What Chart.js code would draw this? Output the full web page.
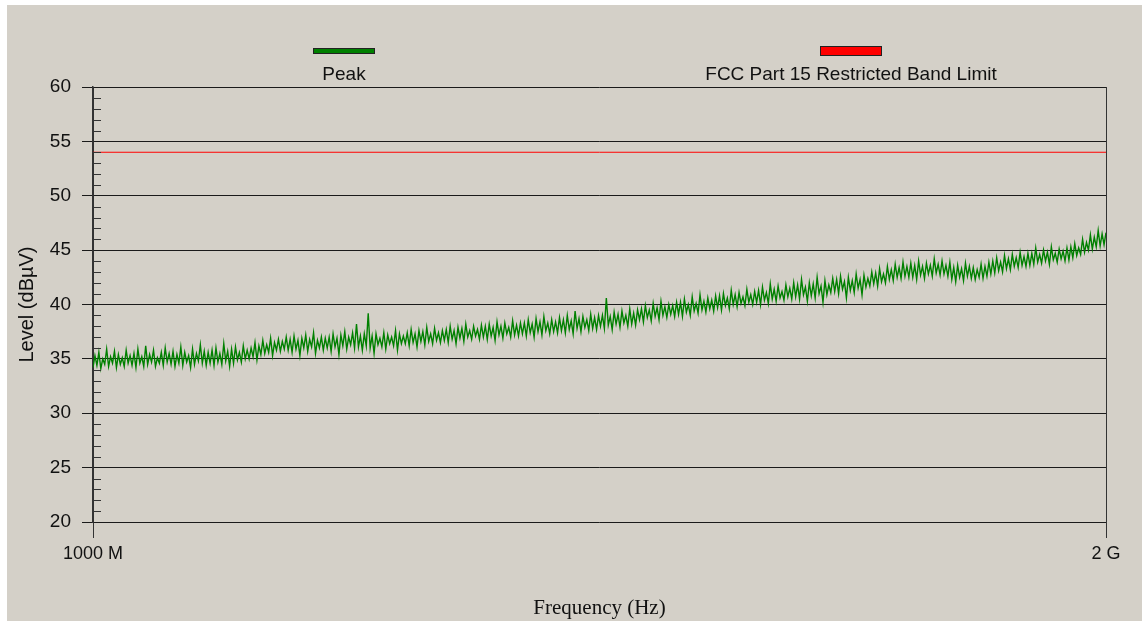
<!DOCTYPE html>
<html>
<head>
<meta charset="utf-8">
<title>Peak scan 1-2 GHz</title>
<script src="https://cdn.jsdelivr.net/npm/chart.js@4.4.1/dist/chart.umd.min.js"></script>
<style>
  html, body { margin: 0; padding: 0; background: #ffffff; }
  #wrap { width: 1142px; height: 621px; }
</style>
</head>
<body>
<div id="wrap"><canvas id="scan" width="1142" height="621"></canvas></div>
<script>
// frequency span in MHz
const freqStart = 1000;
const freqStop = 2000;
const xTickValues = [1000, 2000];
const xTickLabels = ["1000 M", "2 G"];

const limitLevel = 54; // dBuV

// peak trace left to right (dBuV)
const peakLevels = [
  34.2, 35.3, 34.4, 35.6, 34.1, 35.0, 34.5, 35.9, 34.3, 35.2, 34.6, 35.7, 34.2, 35.4, 34.5, 35.1, 34.3, 35.8, 34.6, 35.3,
  34.4, 35.5, 34.2, 35.9, 34.6, 35.2, 34.3, 36.2, 34.5, 35.4, 34.7, 35.8, 34.3, 35.1, 34.6, 35.6, 34.4, 36.0, 34.7, 35.5,
  34.5, 35.7, 34.3, 35.4, 34.6, 36.1, 34.4, 35.6, 34.7, 35.3, 34.2, 35.9, 34.5, 35.5, 34.8, 36.3, 34.6, 35.7, 34.4, 35.6,
  34.6, 35.8, 34.4, 36.0, 34.7, 35.5, 34.5, 36.4, 34.8, 35.7, 34.3, 35.9, 34.6, 36.1, 34.9, 35.6, 34.7, 36.2, 35.0, 35.8,
  35.0, 36.0, 35.2, 36.5, 34.9, 36.2, 35.4, 36.7, 35.5, 36.3, 35.6, 36.9, 35.3, 36.5, 35.8, 36.8, 35.7, 36.6, 35.9, 37.0,
  35.8, 36.8, 35.6, 37.1, 35.9, 36.7, 35.3, 36.9, 36.0, 37.2, 35.7, 36.8, 36.1, 37.4, 35.5, 36.7, 36.0, 37.0, 35.8, 36.9,
  36.0, 37.0, 35.7, 37.3, 36.1, 36.9, 35.4, 37.2, 36.2, 37.5, 35.9, 37.0, 36.3, 37.4, 36.0, 38.2, 36.1, 37.1, 35.8, 37.3,
  36.2, 39.2, 36.0, 37.1, 35.5, 37.3, 36.3, 36.9, 36.1, 37.4, 35.9, 37.2, 36.4, 37.0, 36.2, 37.6, 35.8, 37.3, 36.4, 37.1,
  36.4, 37.4, 36.2, 37.7, 36.5, 37.3, 36.1, 37.6, 36.6, 37.5, 36.3, 37.9, 36.6, 37.3, 36.4, 37.8, 36.7, 37.4, 36.5, 37.6,
  36.7, 37.7, 36.5, 38.0, 36.8, 37.6, 36.4, 37.9, 36.9, 37.8, 36.6, 38.2, 37.0, 37.6, 36.8, 38.0, 37.1, 37.7, 36.8, 38.1,
  37.0, 38.0, 36.8, 38.2, 37.1, 37.9, 36.7, 38.4, 37.2, 38.0, 36.9, 38.3, 37.3, 37.9, 37.0, 38.5, 37.2, 38.1, 37.1, 38.3,
  37.3, 38.3, 37.1, 38.6, 37.4, 38.2, 37.0, 38.7, 37.5, 38.4, 37.2, 38.9, 37.6, 38.3, 37.3, 38.6, 37.5, 38.4, 37.4, 38.8,
  37.6, 38.6, 37.4, 39.0, 37.7, 38.5, 37.3, 39.4, 37.8, 38.7, 37.5, 38.9, 37.9, 38.6, 37.6, 39.1, 37.8, 38.8, 37.7, 39.0,
  38.0, 39.0, 37.8, 40.6, 38.1, 38.9, 37.7, 39.3, 38.2, 39.1, 37.9, 39.4, 38.3, 39.0, 38.0, 39.6, 38.2, 39.2, 38.1, 39.5,
  38.6, 39.6, 38.4, 39.9, 38.8, 39.5, 38.5, 40.1, 38.9, 39.7, 38.6, 40.3, 39.0, 39.8, 38.8, 40.0, 39.1, 39.9, 38.9, 40.2,
  39.1, 40.2, 38.9, 40.5, 39.3, 40.0, 39.0, 40.7, 39.4, 40.1, 39.2, 40.9, 39.5, 40.3, 39.3, 40.6, 39.6, 40.4, 39.4, 40.8,
  39.7, 40.8, 39.5, 41.0, 39.9, 40.6, 39.6, 41.3, 40.0, 40.9, 39.8, 41.1, 40.1, 40.7, 39.9, 41.4, 40.2, 40.9, 40.0, 41.2,
  40.2, 41.3, 40.0, 41.6, 40.4, 41.1, 40.1, 41.9, 40.5, 41.4, 40.3, 41.7, 40.6, 41.2, 40.4, 41.8, 40.7, 41.5, 40.5, 42.0,
  40.7, 41.8, 40.5, 42.3, 40.9, 41.6, 40.3, 42.0, 40.8, 41.9, 40.6, 42.5, 41.0, 41.7, 40.2, 42.2, 40.9, 41.8, 41.1, 42.4,
  41.2, 42.3, 41.0, 42.6, 41.4, 42.1, 40.6, 42.5, 41.3, 42.2, 41.1, 42.8, 41.5, 42.3, 40.9, 42.7, 41.6, 42.4, 41.7, 43.0,
  41.9, 42.9, 41.7, 43.3, 42.1, 42.8, 42.0, 43.5, 42.3, 43.2, 42.2, 43.7, 42.5, 43.4, 42.4, 43.9, 42.6, 43.5, 42.5, 43.8,
  42.5, 43.6, 42.3, 44.0, 42.7, 43.5, 42.4, 43.8, 42.8, 43.6, 42.6, 44.2, 42.9, 43.7, 42.7, 44.0, 42.8, 43.6, 42.6, 43.9,
  42.3, 43.4, 42.1, 43.6, 42.5, 43.3, 42.2, 43.8, 42.6, 43.5, 42.4, 43.4, 42.3, 43.2, 42.5, 43.7, 42.4, 43.5, 42.6, 43.9,
  42.8, 44.0, 42.9, 44.3, 43.1, 43.9, 43.0, 44.5, 43.3, 44.2, 43.2, 44.6, 43.5, 44.3, 43.4, 44.8, 43.6, 44.4, 43.5, 44.7,
  43.6, 44.7, 43.7, 45.2, 43.9, 44.6, 43.8, 45.0, 44.0, 44.8, 43.7, 45.3, 44.1, 44.7, 43.9, 45.1, 44.2, 44.9, 44.0, 45.2,
  44.1, 45.3, 44.3, 45.6, 44.5, 45.2, 44.6, 46.0, 44.8, 45.7, 45.0, 46.4, 45.1, 46.2, 45.3, 46.8, 45.4, 46.5, 45.5, 46.6
];

const seriesNames = ["Peak", "FCC Part 15 Restricted Band Limit"];
const seriesColors = ["#008000", "#ff0000"];

// sweep points are evenly spaced across the span
const stepMHz = (freqStop - freqStart) / (peakLevels.length - 1);
const peakPoints = peakLevels.map((v, i) => ({ x: freqStart + i * stepMHz, y: v }));
const limitPoints = [{ x: freqStart, y: limitLevel }, { x: freqStop, y: limitLevel }];

Chart.defaults.font.family = "'Liberation Sans', Arial, sans-serif";
Chart.defaults.color = "#111";

// beige panel, custom legend and the small inside ticks on the level axis
const panelPlugin = {
  id: "panel",
  beforeDraw(chart) {
    const ctx = chart.ctx;
    ctx.save();
    ctx.fillStyle = "#d4d0c8";
    ctx.fillRect(7, 5, chart.width - 7, chart.height - 5);
    ctx.restore();
  },
  afterDraw(chart) {
    const ctx = chart.ctx;
    const y = chart.scales.y;
    const left = chart.chartArea.left;
    ctx.save();
    ctx.strokeStyle = "#333";
    ctx.lineWidth = 1;
    for (let v = 21; v < 60; v++) {
      if (v % 5 === 0) continue;
      const py = Math.round(y.getPixelForValue(v)) + 0.5;
      ctx.beginPath();
      ctx.moveTo(left, py);
      ctx.lineTo(left + 8, py);
      ctx.stroke();
    }

    // legend
    const items = [
      { x: 313, y: 48, w: 62, h: 6, cx: 344 },
      { x: 820, y: 46, w: 62, h: 10, cx: 851 }
    ];
    ctx.font = "19px 'Liberation Sans', Arial, sans-serif";
    ctx.textAlign = "center";
    ctx.textBaseline = "middle";
    items.forEach((it, i) => {
      ctx.fillStyle = seriesColors[i];
      ctx.fillRect(it.x, it.y, it.w, it.h);
      ctx.strokeStyle = "#222";
      ctx.strokeRect(it.x + 0.5, it.y + 0.5, it.w - 1, it.h - 1);
      ctx.fillStyle = "#111";
      ctx.fillText(seriesNames[i], it.cx, 75);
    });
    ctx.restore();
  }
};

new Chart(document.getElementById("scan"), {
  type: "line",
  data: {
    datasets: [
      {
        label: seriesNames[0],
        data: peakPoints,
        borderColor: seriesColors[0],
        borderWidth: 1.4,
        pointRadius: 0,
        tension: 0
      },
      {
        label: seriesNames[1],
        data: limitPoints,
        borderColor: seriesColors[1],
        borderWidth: 1,
        pointRadius: 0
      }
    ]
  },
  options: {
    responsive: false,
    animation: false,
    layout: { padding: { left: 0, right: 36, top: 87, bottom: 0 } },
    plugins: { legend: { display: false }, tooltip: { enabled: false } },
    scales: {
      x: {
        type: "linear",
        min: freqStart,
        max: freqStop,
        afterBuildTicks: (scale) => {
          scale.ticks = xTickValues.map((v) => ({ value: v }));
        },
        afterFit: (scale) => { scale.height = 99; },
        ticks: {
          callback: (v) => xTickLabels[xTickValues.indexOf(v)],
          font: { size: 18 },
          padding: 5,
          maxRotation: 0
        },
        grid: { color: "#333", lineWidth: 1, tickLength: 16 },
        border: { display: false },
        title: {
          display: true,
          text: "Frequency (Hz)",
          font: { family: "'Liberation Serif', 'Times New Roman', serif", size: 21 },
          padding: { top: 0, bottom: 0 }
        }
      },
      y: {
        min: 20,
        max: 60,
        afterFit: (scale) => { scale.width = 93; },
        ticks: { stepSize: 5, font: { size: 19 }, padding: 11 },
        grid: { color: "#1a1a1a", lineWidth: 1, tickLength: 11 },
        border: { display: true, color: "#333", width: 1.5 },
        title: {
          display: true,
          text: "Level (dBµV)",
          font: { size: 20 },
          padding: { top: 15, bottom: 0 }
        }
      }
    }
  },
  plugins: [panelPlugin]
});
</script>
</body>
</html>
